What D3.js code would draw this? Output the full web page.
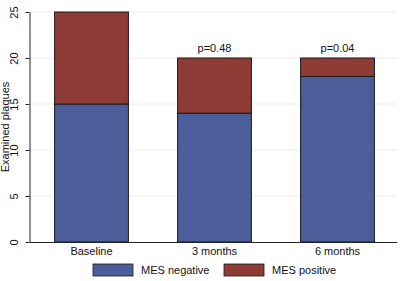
<!DOCTYPE html>
<html>
<head>
<meta charset="utf-8">
<script src="https://cdn.jsdelivr.net/npm/d3@7"></script>
<style>
  body { margin: 0; background: #fff; }
  svg text { font-family: "Liberation Sans", Arial, sans-serif; fill: #111; }
</style>
</head>
<body>
<svg id="chart"></svg>
<script>
// values
const categories = ["Baseline", "3 months", "6 months"];
const mesNegative = [15, 14, 18];
const mesPositive = [10, 6, 2];
const pLabels = ["", "p=0.48", "p=0.04"];
const yTicks = [0, 5, 10, 15, 20, 25];
const seriesNames = ["MES negative", "MES positive"];
const seriesColors = ["#4b5e9a", "#8e3b35"];

const width = 400, height = 281;
const svg = d3.select("#chart").attr("width", width).attr("height", height);

const x = d3.scaleBand()
    .domain(categories)
    .range([30, 399])
    .paddingInner(0.4)
    .paddingOuter(0.2);

const y = d3.scaleLinear()
    .domain([0, 25])
    .range([242, 12]);

// grid
svg.append("g")
    .selectAll("line")
    .data(yTicks.filter(d => d > 0))
    .join("line")
    .attr("x1", 30).attr("x2", 397)
    .attr("y1", d => y(d)).attr("y2", d => y(d))
    .attr("stroke", "#ececec")
    .attr("stroke-width", 1);

// stacked bars
const rows = categories.map((c, i) => ({ cat: c, neg: mesNegative[i], pos: mesPositive[i] }));
const stack = d3.stack().keys(["neg", "pos"])(rows);

svg.append("g")
    .selectAll("g")
    .data(stack)
    .join("g")
    .attr("fill", (d, i) => seriesColors[i])
    .selectAll("rect")
    .data(d => d)
    .join("rect")
    .attr("x", d => x(d.data.cat))
    .attr("width", x.bandwidth())
    .attr("y", d => y(d[1]))
    .attr("height", d => y(d[0]) - y(d[1]))
    .attr("stroke", "#1a1a1a")
    .attr("stroke-width", 1);

// p labels
svg.append("g")
    .selectAll("text")
    .data(categories)
    .join("text")
    .attr("x", d => x(d) + x.bandwidth() / 2)
    .attr("y", (d, i) => y(mesNegative[i] + mesPositive[i]) - 6)
    .attr("text-anchor", "middle")
    .attr("font-size", 11)
    .text((d, i) => pLabels[i]);

// y axis
const yAxis = svg.append("g")
    .attr("transform", "translate(29.5,0)")
    .call(d3.axisLeft(y).tickValues(yTicks).tickSize(4).tickSizeOuter(0));
yAxis.select(".domain").attr("stroke", "#222");
yAxis.selectAll(".tick line").attr("stroke", "#222");
yAxis.selectAll(".tick text")
    .attr("font-size", 11)
    .attr("font-family", "Liberation Sans, Arial, sans-serif")
    .attr("transform", "rotate(-90)")
    .attr("x", 0)
    .attr("y", -12)
    .attr("dy", "0")
    .attr("text-anchor", "middle")
    .attr("fill", "#111");

// x axis
const xAxis = svg.append("g")
    .attr("transform", `translate(0,${y(0) + 0.5})`)
    .call(d3.axisBottom(x).tickSize(0).tickSizeOuter(0).tickPadding(5));
xAxis.select(".domain").attr("stroke", "#222").attr("d", "M29.5,0H397");
xAxis.selectAll(".tick text")
    .attr("font-size", 11)
    .attr("font-family", "Liberation Sans, Arial, sans-serif")
    .attr("fill", "#111");

// y title
svg.append("text")
    .attr("transform", `translate(9,${(y(0) + y(25)) / 2}) rotate(-90)`)
    .attr("text-anchor", "middle")
    .attr("font-size", 11)
    .text("Examined plaques");

// legend
const legendX = [93, 224];
const legend = svg.append("g")
    .selectAll("g")
    .data(seriesNames)
    .join("g")
    .attr("transform", (d, i) => `translate(${legendX[i]},264)`);
legend.append("rect")
    .attr("width", 40).attr("height", 12)
    .attr("fill", (d, i) => seriesColors[i])
    .attr("stroke", "#1a1a1a").attr("stroke-width", 0.8);
legend.append("text")
    .attr("x", 48).attr("y", 10)
    .attr("font-size", 11)
    .text(d => d);
</script>
</body>
</html>
